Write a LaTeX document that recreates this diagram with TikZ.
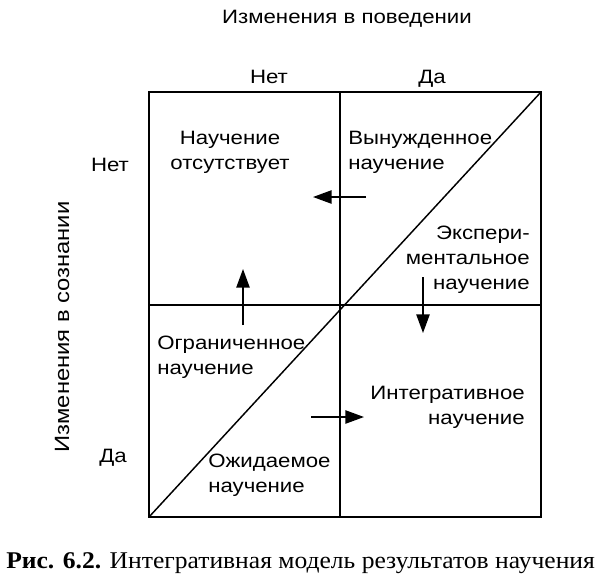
\documentclass[tikz,border=0pt]{standalone}
\usepackage{fontspec}
\setmainfont{Liberation Sans}[FakeStretch=1.15]
\newfontfamily\capfont{Liberation Serif}[FakeStretch=1.065]
\usetikzlibrary{arrows.meta,positioning}

\begin{document}
\begin{tikzpicture}[x=0.75pt,y=-0.75pt,
                txt/.style={font=\fontsize{14.5}{18.75}\selectfont, inner sep=0pt},
                field/.style={txt, align=#1},
                field/.default=left,
                move/.style={-{Triangle[length=14pt,width=10pt]}, line width=1.1pt},
                grid line/.style={line width=1.3pt},
              ]
  \useasboundingbox (0,0) rectangle (600,576);
  % corners and middle of the grid
  \coordinate (tl) at (149,92);
  \coordinate (tr) at (541,92);
  \coordinate (bl) at (149,517);
  \coordinate (br) at (541,517);
  \coordinate (tm) at (340,92);
  \coordinate (bm) at (340,517);
  \coordinate (ml) at (149,305);
  \coordinate (mr) at (541,305);

  \draw [grid line] (tl) rectangle (br);
  \draw [grid line] (tm) -- (bm);
  \draw [grid line] (ml) -- (mr);
  \draw [line width=1.1pt] (bl) -- (tr);

  % axis labels
  \node [txt, anchor=base] (beh) at (347,23) {Изменения в поведении};
  \node [txt, anchor=base] (behNo) at (269,83) {Нет};
  \node [txt, anchor=base] (behYes) at (432,83) {Да};
  \node [txt, anchor=base, rotate=90, font=\fontsize{15.5}{18.75}\selectfont] (mind) at (69,327) {Изменения в сознании};
  \node [txt, anchor=base] (mindNo) at (110,171) {Нет};
  \node [txt, anchor=base] (mindYes) at (113,462) {Да};

  % fields (base = last line)
  \node [field=center, anchor=base] (none) at (230,169) {Научение\\отсутствует};
  \node [field, anchor=base west] (forced) at (348,169) {Вынужденное\\научение};
  \node [field=right, anchor=base east] (exper) at (530,289) {Экспери-\\ментальное\\научение};
  \node [field, anchor=base west] (limited) at (157,374) {Ограниченное\\научение};
  \node [field=right, anchor=base east] (integr) at (525,424) {Интегративное\\научение};
  \node [field, anchor=base west] (expect) at (208,492) {Ожидаемое\\научение};

  % arrows
  \coordinate (lA) at (366,197);
  \coordinate (lB) at (313,197);
  \coordinate (uA) at (243,325);
  \coordinate (uB) at (243,269);
  \coordinate (dA) at (423,277);
  \coordinate (dB) at (423,333);
  \coordinate (rA) at (311,417);
  \coordinate (rB) at (364,417);
  \draw [move] (lA) -- (lB);
  \draw [move] (uA) -- (uB);
  \draw [move] (dA) -- (dB);
  \draw [move] (rA) -- (rB);

  \node [anchor=base west, inner sep=0pt, font=\capfont\fontsize{18}{20}\selectfont] (cap) at (6,568)
    {\textbf{Рис. 6.2.} Интегративная модель результатов научения};
\end{tikzpicture}
\end{document}
